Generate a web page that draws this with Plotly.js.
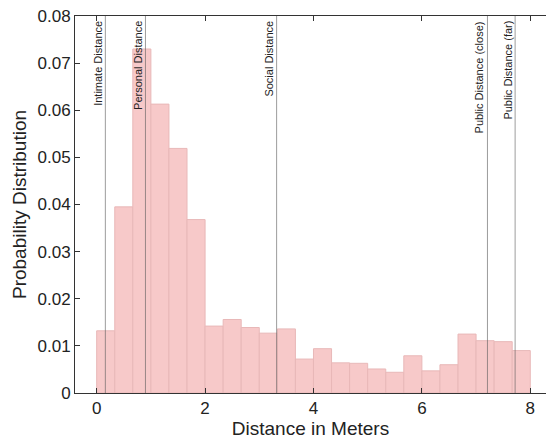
<!DOCTYPE html>
<html>
<head>
<meta charset="utf-8">
<script src="https://cdn.plot.ly/plotly-3.0.1.min.js"></script>
<style>html,body{margin:0;padding:0;background:#fff;}#chart{width:546px;height:442px;}</style>
</head>
<body>
<div id="chart"></div>
<script>
// Histogram bin centers (meters), bin width 1/3 m
const binCenters = [0.1667, 0.5, 0.8333, 1.1667, 1.5, 1.8333, 2.1667, 2.5, 2.8333, 3.1667, 3.5, 3.8333,
                    4.1667, 4.5, 4.8333, 5.1667, 5.5, 5.8333, 6.1667, 6.5, 6.8333, 7.1667, 7.5, 7.8333];
const binWidth = 0.3333;
const probability = [0.0132, 0.0395, 0.0730, 0.0613, 0.0519, 0.0368, 0.0142, 0.0156, 0.0139, 0.0127, 0.0136, 0.0072,
                     0.0094, 0.0064, 0.0063, 0.0051, 0.0044, 0.0079, 0.0047, 0.0060, 0.0125, 0.0111, 0.0109, 0.0090];

// Proxemic zone markers
const zoneNames = ["Intimate Distance", "Personal Distance", "Social Distance", "Public Distance (close)", "Public Distance (far)"];
const zoneDistances = [0.16, 0.90, 3.32, 7.21, 7.72];

// Axis ticks
const xTicks = [0, 2, 4, 6, 8];
const yTicks = [0, 0.01, 0.02, 0.03, 0.04, 0.05, 0.06, 0.07, 0.08];
const yTickLabels = ["0", "0.01", "0.02", "0.03", "0.04", "0.05", "0.06", "0.07", "0.08"];

const font = "Liberation Sans, Arial, Helvetica, sans-serif";

const traces = [{
  type: "bar",
  x: binCenters,
  y: probability,
  width: binCenters.map(() => binWidth),
  marker: {color: "rgb(247,201,201)", line: {color: "rgb(232,184,184)", width: 1}},
  hoverinfo: "x+y",
  showlegend: false
}];

const shapes = zoneDistances.map(d => ({
  type: "line", xref: "x", yref: "paper", x0: d, x1: d, y0: 0, y1: 1,
  line: {color: "rgba(90,90,90,0.6)", width: 1}
}));

const annotations = zoneNames.map((name, i) => ({
  text: name, x: zoneDistances[i], xref: "x", y: 1, yref: "paper",
  xanchor: "right", yanchor: "top", textangle: -90, showarrow: false,
  xshift: 0, yshift: -3,
  font: {family: font, size: 11, color: "#222"}
}));

const layout = {
  width: 546, height: 442,
  margin: {l: 75, r: 0, t: 16, b: 49},
  paper_bgcolor: "#fff", plot_bgcolor: "#fff",
  bargap: 0,
  font: {family: font, color: "#222"},
  xaxis: {
    range: [-0.4, 8.29],
    tickvals: xTicks,
    ticks: "inside", ticklen: 5, tickcolor: "#333", tickwidth: 1,
    showline: true, linecolor: "#333", linewidth: 1, mirror: "ticks",
    showgrid: false, zeroline: false,
    tickfont: {family: font, size: 17, color: "#222"},
    title: {text: "Distance in Meters", font: {family: font, size: 19, color: "#222"}, standoff: 3}
  },
  yaxis: {
    range: [0, 0.08],
    tickvals: yTicks,
    ticktext: yTickLabels,
    ticks: "inside", ticklen: 5, tickcolor: "#333", tickwidth: 1,
    showline: true, linecolor: "#333", linewidth: 1, mirror: false,
    showgrid: false, zeroline: false,
    tickfont: {family: font, size: 17, color: "#222"},
    title: {text: "Probability Distribution", font: {family: font, size: 19, color: "#222"}, standoff: 5}
  },
  shapes: shapes,
  annotations: annotations
};

Plotly.newPlot("chart", traces, layout, {displayModeBar: false, staticPlot: true});
</script>
</body>
</html>
